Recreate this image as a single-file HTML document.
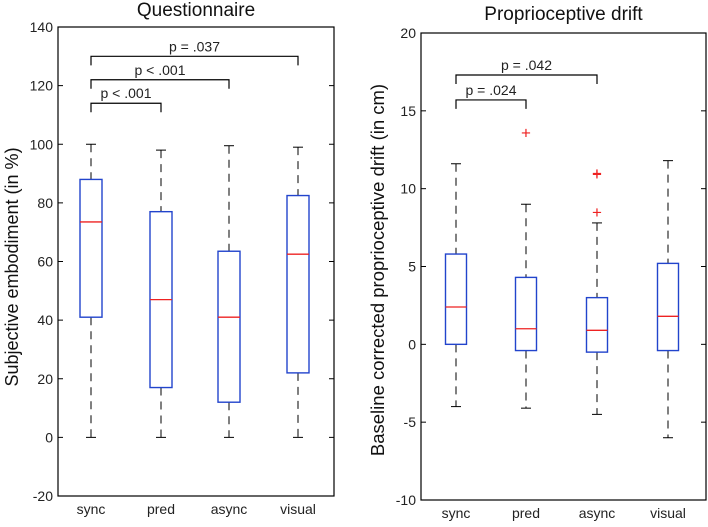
<!DOCTYPE html>
<html><head><meta charset="utf-8"><style>
body{margin:0;background:#fff;}
svg{display:block;font-family:"Liberation Sans",Arial,sans-serif;}
</style></head><body>
<svg id="chart" width="708" height="527" viewBox="0 0 708 527" xmlns="http://www.w3.org/2000/svg"></svg>
<script>
const categories = ["sync","pred","async","visual"];
// Questionnaire
const qWhiskLow = [0,0,0,0];
const qWhiskHigh = [100,98,99.5,99];
const qQ1 = [41,17,12,22];
const qQ3 = [88,77,63.5,82.5];
const qMedian = [73.5,47,41,62.5];
const qTicks = [140,120,100,80,60,40,20,0,-20];
const qSig = [{a:0,b:3,label:"p = .037"},{a:0,b:2,label:"p < .001"},{a:0,b:1,label:"p < .001"}];
const qSigLevel = [130,122,114];
// Drift
const dWhiskLow = [-4,-4.1,-4.5,-6];
const dWhiskHigh = [11.6,9,7.8,11.8];
const dQ1 = [0,-0.4,-0.5,-0.4];
const dQ3 = [5.8,4.3,3,5.2];
const dMedian = [2.4,1,0.9,1.8];
const dOutlierCat = [1,2,2,2];
const dOutlierVal = [13.6,11,10.95,8.5];
const dTicks = [20,15,10,5,0,-5,-10];
const dSig = [{a:0,b:2,label:"p = .042"},{a:0,b:1,label:"p = .024"}];
const dSigLevel = [17.3,15.7];

const svg=document.getElementById('chart');
const NS='http://www.w3.org/2000/svg';
function mk(tag,attrs,parent){const e=document.createElementNS(NS,tag);for(const k in attrs)e.setAttribute(k,attrs[k]);(parent||svg).appendChild(e);return e;}

function panel(cfg){
  const g=mk('g',{});
  
  
  const y=v=>cfg.y0+(cfg.vmax-v)/(cfg.vmax-cfg.vmin)*(cfg.y1-cfg.y0);
  const x=i=>cfg.cx[i];
  const frame=mk('rect',{x:cfg.x0,y:cfg.y0,width:cfg.x1-cfg.x0,height:cfg.y1-cfg.y0,fill:'none',stroke:'#000','stroke-width':1.2},g);
  
  
  const t=mk('text',{x:(cfg.x0+cfg.x1)/2,y:cfg.titleY,'text-anchor':'middle','font-size':19,fill:'#111'},g);
  t.textContent=cfg.title;
  
  
  const yl=mk('text',{transform:`translate(${cfg.ylabX},${cfg.ylabY}) rotate(-90)`,'text-anchor':'middle','font-size':cfg.ylabSize,fill:'#111'},g);
  yl.textContent=cfg.ylabel;
  
  
  cfg.ticks.forEach(v=>{
    const yy=y(v);
    mk('line',{x1:cfg.x0,x2:cfg.x0+5,y1:yy,y2:yy,stroke:'#000'},g);
    mk('line',{x1:cfg.x1,x2:cfg.x1-5,y1:yy,y2:yy,stroke:'#000'},g);
    const tl=mk('text',{x:cfg.x0-5,y:yy+5,'text-anchor':'end','font-size':14,fill:'#222'},g);
    tl.textContent=v;
    
    
  });
  categories.forEach((c,i)=>{
    const xl=mk('text',{x:x(i),y:cfg.y1+18,'text-anchor':'middle','font-size':14,fill:'#222'},g);
    xl.textContent=c;
    
    
    const bg=mk('g',{},g);
    
    
    const d={stroke:'#000','stroke-width':1,'stroke-dasharray':'8,6'};
    mk('line',Object.assign({x1:x(i),x2:x(i),y1:y(cfg.wh[i]),y2:y(cfg.q3[i])},d),bg);
    mk('line',Object.assign({x1:x(i),x2:x(i),y1:y(cfg.q1[i]),y2:y(cfg.wl[i])},d),bg);
    mk('line',{x1:x(i)-5,x2:x(i)+5,y1:y(cfg.wh[i]),y2:y(cfg.wh[i]),stroke:'#000'},bg);
    mk('line',{x1:x(i)-5,x2:x(i)+5,y1:y(cfg.wl[i]),y2:y(cfg.wl[i]),stroke:'#000'},bg);
    mk('rect',{x:x(i)-cfg.bw,y:y(cfg.q3[i]),width:2*cfg.bw,height:y(cfg.q1[i])-y(cfg.q3[i]),fill:'none',stroke:'#2244cc','stroke-width':1.4},bg);
    mk('line',{x1:x(i)-cfg.bw,x2:x(i)+cfg.bw,y1:y(cfg.med[i]),y2:y(cfg.med[i]),stroke:'#ee2222','stroke-width':1.3},bg);
  });
  (cfg.oc||[]).forEach((ci,k)=>{
    const o=mk('text',{x:x(ci),y:y(cfg.ov[k])+6,'text-anchor':'middle','font-size':17,fill:'#ee2222'},g);
    o.textContent='+';
    
    
  });
  cfg.sig.forEach((s,k)=>{
    const yy=y(cfg.sigLevel[k]);
    const sg=mk('g',{},g);
    
    
    mk('path',{d:`M${x(s.a)} ${yy+9}V${yy}H${x(s.b)}V${yy+9}`,fill:'none',stroke:'#000','stroke-width':1.2},sg);
    const lt=mk('text',{x:(x(s.a)+x(s.b))/2,y:yy-5,'text-anchor':'middle','font-size':14,fill:'#222'},sg);
    lt.textContent=s.label;
  });
}
panel({name:'questionnaire-panel',title:'Questionnaire',ylabel:'Subjective embodiment (in %)',ylabSize:18,ylabX:18,ylabY:267,x0:58,x1:334,y0:27,y1:496,vmax:140,vmin:-20,cx:[91,161,229,298],bw:11,titleY:16,ticks:qTicks,wl:qWhiskLow,wh:qWhiskHigh,q1:qQ1,q3:qQ3,med:qMedian,sig:qSig,sigLevel:qSigLevel});
panel({name:'drift-panel',title:'Proprioceptive drift',ylabel:'Baseline corrected proprioceptive drift (in cm)',ylabSize:18.5,ylabX:384,ylabY:270,x0:421,x1:706,y0:33,y1:500,vmax:20,vmin:-10,cx:[456,526,597,668],bw:10.5,titleY:20,ticks:dTicks,wl:dWhiskLow,wh:dWhiskHigh,q1:dQ1,q3:dQ3,med:dMedian,oc:dOutlierCat,ov:dOutlierVal,sig:dSig,sigLevel:dSigLevel});
</script>
</body></html>
